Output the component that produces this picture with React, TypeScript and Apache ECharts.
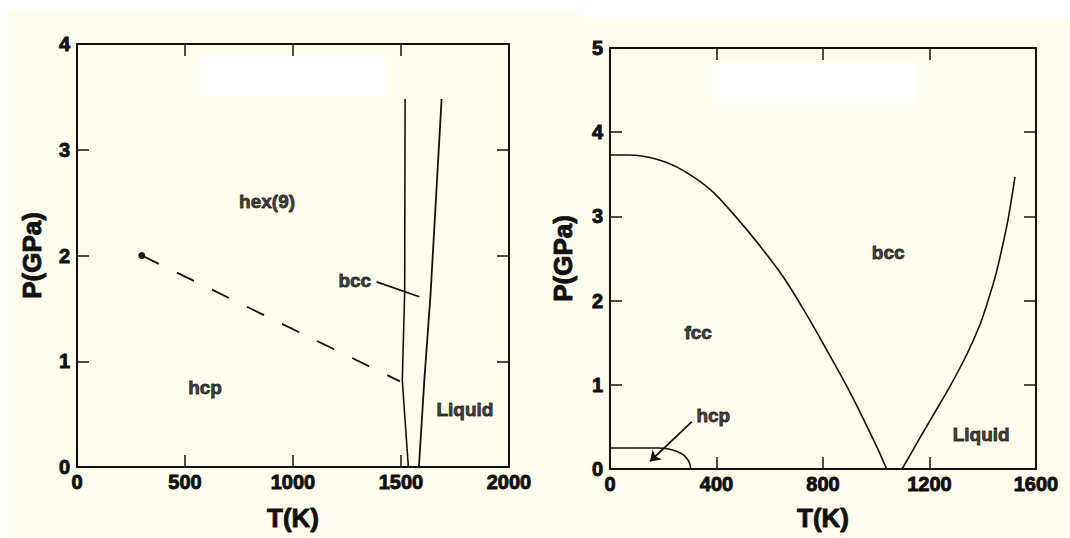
import React, { useEffect, useRef } from "react";
import * as echarts from "echarts";

// ---------- Left panel data (T in K, P in GPa) ----------
const leftXMax = 2000;
const leftXInterval = 500;
const leftYMax = 4;
const hcpHexBoundary: [number, number][] = [[300, 2.0], [1495, 0.81]];
const criticalPoint: [number, number][] = [[300, 2.0]];
const hexBccBoundary: [number, number][] = [[1534, 0], [1506, 0.82], [1517, 1.65], [1519, 3.48]];
const bccLiquidLeft: [number, number][] = [[1583, 0], [1608, 0.82], [1637, 1.64], [1688, 3.48]];
const bccPointer: [number, number][] = [[1387, 1.75], [1585, 1.61]];
const leftLabels = [
  { name: "hex(9)", t: 880, p: 2.51 },
  { name: "hcp", t: 593, p: 0.75 },
  { name: "bcc", t: 1286, p: 1.76 },
  { name: "Liquid", t: 1796, p: 0.54 },
];

// ---------- Right panel data ----------
const rightXMax = 1600;
const rightXInterval = 400;
const rightYMax = 5;
const fccBccBoundary: [number, number][] = [
  [0, 3.73], [60, 3.73], [125, 3.715], [213, 3.64], [288, 3.52], [376, 3.32],
  [463, 3.03], [563, 2.65], [651, 2.28], [739, 1.83], [820, 1.38], [900, 0.92],
  [960, 0.54], [1010, 0.21], [1039, 0],
];
const bccLiquidRight: [number, number][] = [
  [1097, 0], [1164, 0.37], [1214, 0.64], [1280, 1.0], [1340, 1.36], [1390, 1.72],
  [1420, 2.0], [1450, 2.32], [1475, 2.66], [1496, 2.98], [1521, 3.47],
];
const hcpFccBoundary: [number, number][] = [
  [0, 0.249], [180, 0.249], [220, 0.238], [250, 0.212], [275, 0.17], [292, 0.11],
  [300, 0.06], [303, 0],
];
const hcpArrow: [number, number][] = [[307, 0.56], [150, 0.09]];
const rightLabels = [
  { name: "bcc", t: 1045, p: 2.57 },
  { name: "fcc", t: 331, p: 1.62 },
  { name: "hcp", t: 388, p: 0.63 },
  { name: "Liquid", t: 1394, p: 0.41 },
];

const FONT = "'Liberation Sans', Arial, Helvetica, sans-serif";
const INK = "#111111";
const CREAM = "#fffeee";

const boldText = {
  fontWeight: "bold",
  color: INK,
  fontFamily: FONT,
  textBorderColor: INK,
  textBorderWidth: 0.9,
};

function xAxes(gridIndex: number, max: number, interval: number, nameGap: number) {
  const base = {
    gridIndex,
    type: "value" as const,
    min: 0,
    max,
    interval,
    splitLine: { show: false },
    axisLine: { show: true, onZero: false, lineStyle: { color: INK, width: 2 } },
    axisTick: { show: true, inside: true, length: 12, lineStyle: { color: INK, width: 1.5 } },
  };
  return [
    {
      ...base,
      position: "bottom",
      axisLabel: { show: true, margin: 5, fontSize: 20, ...boldText, formatter: (v: number) => String(v) },
      name: "T(K)",
      nameLocation: "middle",
      nameGap,
      nameTextStyle: { fontSize: 26, ...boldText },
    },
    { ...base, position: "top", axisLabel: { show: false } },
  ];
}

function yAxes(gridIndex: number, max: number, nameGap: number) {
  const base = {
    gridIndex,
    type: "value" as const,
    min: 0,
    max,
    interval: 1,
    splitLine: { show: false },
    axisLine: { show: true, onZero: false, lineStyle: { color: INK, width: 2 } },
    axisTick: { show: true, inside: true, length: 12, lineStyle: { color: INK, width: 1.5 } },
  };
  return [
    {
      ...base,
      position: "left",
      axisLabel: { show: true, margin: 7, fontSize: 20, ...boldText, formatter: (v: number) => String(v) },
      name: "P(GPa)",
      nameLocation: "middle",
      nameGap,
      nameTextStyle: { fontSize: 26, ...boldText },
    },
    { ...base, position: "right", axisLabel: { show: false } },
  ];
}

function curve(data: [number, number][], xi: number, yi: number, extra: any = {}) {
  return {
    type: "line",
    xAxisIndex: xi,
    yAxisIndex: yi,
    data,
    showSymbol: false,
    symbol: "none",
    silent: true,
    lineStyle: { color: INK, width: 1.6, ...(extra.lineStyle || {}) },
    smooth: extra.smooth ?? false,
  };
}

function labelSeries(labels: { name: string; t: number; p: number }[], xi: number, yi: number) {
  return {
    type: "scatter",
    xAxisIndex: xi,
    yAxisIndex: yi,
    symbolSize: 0,
    silent: true,
    data: labels.map((l) => ({ name: l.name, value: [l.t, l.p] })),
    label: {
      show: true,
      position: "inside",
      formatter: "{b}",
      fontSize: 19,
      ...boldText,
    },
  };
}

export default function App() {
  const ref = useRef<HTMLDivElement>(null);
  useEffect(() => {
    document.body.style.margin = "0";
    if (!ref.current) return;
    const chart = echarts.init(ref.current, undefined, { renderer: "svg" });
    chart.setOption({
      animation: false,
      backgroundColor: CREAM,
      graphic: [
        { type: "rect", silent: true, shape: { x: 0, y: 0, width: 1070, height: 10 }, style: { fill: "#ffffff" } },
        { type: "rect", silent: true, shape: { x: 0, y: 0, width: 8, height: 538 }, style: { fill: "#ffffff" } },
        { type: "rect", silent: true, shape: { x: 582, y: 0, width: 488, height: 19 }, style: { fill: "#ffffff" } },
        { type: "rect", silent: true, shape: { x: 200, y: 55, width: 187, height: 42 }, style: { fill: "#ffffff" } },
        { type: "rect", silent: true, shape: { x: 713, y: 62, width: 204, height: 42 }, style: { fill: "#ffffff" } },
      ],
      grid: [
        { left: 77, top: 44, width: 432, height: 423 },
        { left: 610, top: 48, width: 426, height: 421 },
      ],
      xAxis: [
        ...xAxes(0, leftXMax, leftXInterval, 38),
        ...xAxes(1, rightXMax, rightXInterval, 36),
      ],
      yAxis: [...yAxes(0, leftYMax, 32), ...yAxes(1, rightYMax, 34)],
      series: [
        // left panel
        curve(hcpHexBoundary, 0, 0, { lineStyle: { type: [19, 20], width: 1.8 } }),
        {
          type: "scatter",
          xAxisIndex: 0,
          yAxisIndex: 0,
          data: criticalPoint,
          symbolSize: 7,
          silent: true,
          itemStyle: { color: INK, opacity: 1 },
        },
        curve(hexBccBoundary, 0, 0),
        curve(bccLiquidLeft, 0, 0, { lineStyle: { width: 1.8 } }),
        curve(bccPointer, 0, 0, { lineStyle: { width: 1.8 } }),
        labelSeries(leftLabels, 0, 0),
        // right panel
        curve(fccBccBoundary, 2, 2, { smooth: 0.35 }),
        curve(bccLiquidRight, 2, 2, { smooth: 0.35 }),
        curve(hcpFccBoundary, 2, 2, { smooth: 0.35 }),
        {
          type: "lines",
          coordinateSystem: "cartesian2d",
          xAxisIndex: 2,
          yAxisIndex: 2,
          silent: true,
          symbol: ["none", "arrow"],
          symbolSize: 10,
          lineStyle: { color: INK, width: 1.8, opacity: 1 },
          data: [{ coords: hcpArrow }],
        },
        labelSeries(rightLabels, 2, 2),
      ],
    });
    return () => chart.dispose();
  }, []);
  return <div ref={ref} style={{ width: 1070, height: 538 }} />;
}
